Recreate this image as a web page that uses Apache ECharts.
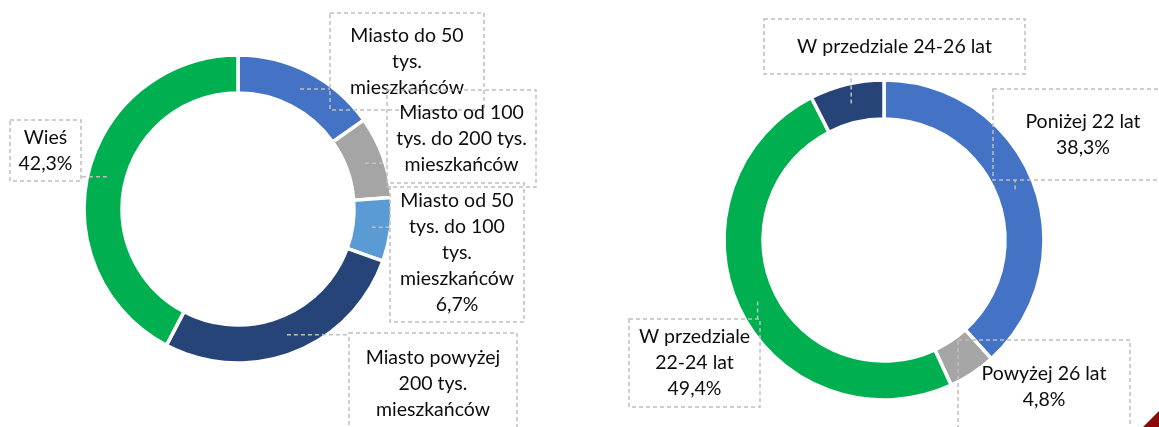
<!DOCTYPE html>
<html>
<head>
<meta charset="utf-8">
<script src="https://cdn.jsdelivr.net/npm/echarts@6/dist/echarts.min.js"></script>
<style>
  html, body { margin: 0; padding: 0; background: #fff; }
  #main { width: 1159px; height: 427px; }
</style>
</head>
<body>
<div id="main"></div>
<script>
// left ring: place of residence
const placeNames = [
  'Miasto do 50\ntys.\nmieszkańców',
  'Miasto od 100\ntys. do 200 tys.\nmieszkańców',
  'Miasto od 50\ntys. do 100\ntys.\nmieszkańców',
  'Miasto powyżej\n200 tys.\nmieszkańców',
  'Wieś'
]
const placeValues = [15.2, 8.6, 6.7, 27.2, 42.3]
const placeShowValue = [false, false, true, false, true]

// right ring: age
const ageNames = ['Poniżej 22 lat', 'Powyżej 26 lat', 'W przedziale\n22-24 lat', 'W przedziale 24-26 lat']
const ageValues = [38.3, 4.8, 49.4, 7.5]
const ageShowValue = [true, true, true, false]

const placeColors = ['#4472C4', '#A5A5A5', '#5B9BD5', '#264478', '#00B050']
const ageColors = ['#4472C4', '#A5A5A5', '#00B050', '#264478']

// label boxes as in the picture: [left, top, width, height]
const placeBoxes = [[330, 13, 154, 97], [387, 90, 149, 97], [390, 183, 134, 139], [349, 333, 168, 102], [10, 120, 71, 61]]
const ageBoxes = [[993, 89, 180, 91], [958, 340, 172, 93], [629, 319, 131, 88], [764, 19, 261, 55]]

const LINE_H = 26
const GRAY = '#BFBFBF'
const fmtPct = v => v.toFixed(1).replace('.', ',') + '%'

function buildData(names, values, showValue, colors, boxes) {
  return names.map((name, i) => {
    const lines = name.split('\n').length + (showValue[i] ? 1 : 0)
    const [, , w, h] = boxes[i]
    return {
      name,
      value: values[i],
      itemStyle: { color: colors[i] },
      label: { width: w - 8, padding: [(h - lines * LINE_H) / 2, 4] }
    }
  })
}

// leader: from the middle of the ring at the slice's mid angle to the nearest point of its box
function leaders(center, radius, values, boxes) {
  const total = values.reduce((a, b) => a + b, 0)
  let before = 0
  return values.map((v, i) => {
    const angle = (before + v / 2) / total * 2 * Math.PI
    before += v
    const r = (radius[0] + radius[1]) / 2
    const px = center[0] + r * Math.sin(angle)
    const py = center[1] - r * Math.cos(angle)
    const [x, y, w, h] = boxes[i]
    const bx = Math.min(Math.max(px, x), x + w)
    const by = Math.min(Math.max(py, y), y + h)
    return {
      type: 'polyline',
      z: 10,
      silent: true,
      shape: { points: [[px, py], [bx, by]] },
      style: { stroke: GRAY, lineWidth: 1.5, lineDash: [4, 3], fill: null }
    }
  })
}

function ringSeries(center, radius, data, showValue, boxes) {
  return {
    type: 'pie',
    center,
    radius,
    startAngle: 90,
    avoidLabelOverlap: false,
    animation: false,
    silent: true,
    data,
    itemStyle: { borderColor: '#fff', borderWidth: 3.5 },
    label: {
      show: true,
      position: 'outside',
      formatter: p => showValue[p.dataIndex] ? p.name + '\n' + fmtPct(p.value) : p.name,
      fontFamily: 'Lato',
      fontSize: 19.5,
      lineHeight: LINE_H,
      color: '#0D0D0D',
      align: 'center',
      overflow: 'none',
      borderColor: GRAY,
      borderWidth: 1.5,
      borderType: [4, 3]
    },
    labelLine: { show: false },
    labelLayout: p => {
      const [x, y, w, h] = boxes[p.dataIndex]
      return { x: x + w / 2, y: y + h / 2, align: 'center', verticalAlign: 'middle' }
    }
  }
}

const placeCenter = [238, 209]
const placeRadius = [116, 154]
const ageCenter = [884, 240]
const ageRadius = [121, 160]

const chart = echarts.init(document.getElementById('main'))
chart.setOption({
  backgroundColor: '#fff',
  series: [
    ringSeries(placeCenter, placeRadius, buildData(placeNames, placeValues, placeShowValue, placeColors, placeBoxes), placeShowValue, placeBoxes),
    ringSeries(ageCenter, ageRadius, buildData(ageNames, ageValues, ageShowValue, ageColors, ageBoxes), ageShowValue, ageBoxes)
  ],
  graphic: [
    ...leaders(placeCenter, placeRadius, placeValues, placeBoxes),
    ...leaders(ageCenter, ageRadius, ageValues, ageBoxes),
    {
      type: 'polygon',
      shape: { points: [[1143, 427], [1159, 427], [1159, 411]] },
      style: { fill: '#8B0A0A' },
      silent: true
    }
  ]
})
</script>
</body>
</html>
